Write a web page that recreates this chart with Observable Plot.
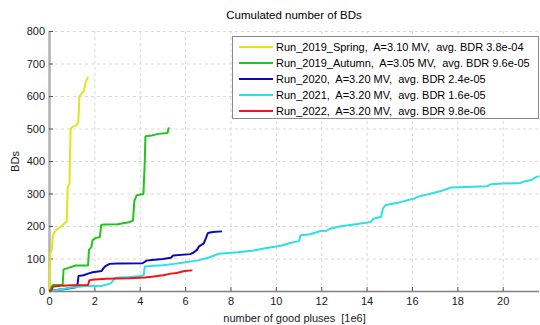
<!DOCTYPE html>
<html>
<head>
<meta charset="utf-8">
<script src="https://cdn.jsdelivr.net/npm/d3@7"></script>
<script src="https://cdn.jsdelivr.net/npm/@observablehq/plot@0.6"></script>
<style>
  html, body { margin: 0; padding: 0; background: #fff; }
  #wrap { position: relative; width: 540px; height: 325px; font-family: "Liberation Sans", Arial, sans-serif; }
  #title { position: absolute; left: 49px; width: 490px; top: 9px; text-align: center; font-size: 11.5px; color: #000; }
  #legend { position: absolute; left: 232px; top: 36px; width: 305px; height: 81px; border: 1px solid #8a8a8a; background: #fff; box-sizing: content-box; }
  .row { position: absolute; left: 0; height: 16px; white-space: pre; font-size: 11px; color: #000; }
  .row svg { position: absolute; left: 6px; top: 0; }
  .row span { position: absolute; left: 43px; top: 1px; }
</style>
</head>
<body>
<div id="wrap">
  <div id="chart"></div>
  <div id="title">Cumulated number of BDs</div>
  <div id="legend"></div>
</div>
<script>
// ---- data ----
const seriesNames = [
  "Run_2019_Spring,  A=3.10 MV,  avg. BDR 3.8e-04",
  "Run_2019_Autumn,  A=3.05 MV,  avg. BDR 9.6e-05",
  "Run_2020,  A=3.20 MV,  avg. BDR 2.4e-05",
  "Run_2021,  A=3.20 MV,  avg. BDR 1.6e-05",
  "Run_2022,  A=3.20 MV,  avg. BDR 9.8e-06"
];
const seriesColors = ["#e3e31c", "#22c41c", "#0a0ab0", "#2ee0e0", "#f01414"];

const springX = [0, 0.02, 0.04, 0.1, 0.15, 0.3, 0.55, 0.72, 0.76, 0.8, 0.88, 0.93, 1.0, 1.2, 1.27, 1.32, 1.45, 1.52, 1.58, 1.62, 1.7];
const springY = [0, 60, 118, 130, 175, 190, 202, 213, 215, 320, 332, 500, 506, 512, 522, 600, 612, 618, 640, 648, 660];

const autumnX = [0, 0.1, 0.15, 0.58, 0.62, 0.8, 1.15, 1.7, 1.74, 1.84, 1.9, 2.05, 2.22, 2.28, 2.4, 3.0, 3.5, 3.68, 3.74, 3.84, 4.14, 4.2, 4.23, 4.5, 4.8, 5.2, 5.26];
const autumnY = [0, 15, 20, 20, 68, 72, 80, 80, 128, 136, 158, 165, 167, 205, 206, 207, 213, 218, 278, 296, 300, 400, 478, 480, 485, 488, 505];

const run2020X = [0, 0.3, 0.6, 0.9, 1.22, 1.28, 1.5, 1.7, 1.9, 2.3, 2.38, 2.45, 2.65, 3.0, 4.1, 4.28, 4.5, 5.0, 5.35, 5.45, 6.2, 6.35, 6.5, 6.58, 6.8, 6.9, 6.98, 7.2, 7.6];
const run2020Y = [0, 5, 7, 10, 14, 48, 50, 55, 59, 63, 72, 77, 85, 86, 87, 95, 97, 100, 104, 111, 115, 120, 128, 138, 148, 165, 180, 183, 185];

const run2021X = [0, 0.2, 0.6, 1.0, 1.7, 2.25, 2.7, 2.9, 3.5, 4.05, 4.15, 4.2, 4.6, 5.0, 5.5, 6.0, 6.5, 7.0, 7.45, 8.3, 9.0, 9.5, 10.2, 10.6, 11.0, 11.07, 11.5, 11.95, 12.22, 12.35, 12.84, 13.57, 14.16, 14.28, 14.62, 14.7, 14.82, 15.3, 16.07, 16.25, 16.8, 17.25, 17.7, 19.3, 19.45, 20.0, 20.75, 20.95, 21.2, 21.45, 21.6];
const run2021Y = [0, 3, 8, 12, 18, 16, 25, 42, 45, 48, 50, 77, 79, 81, 85, 90, 95, 104, 116, 121, 126, 133, 141, 149, 155, 173, 176, 186, 187, 193, 201, 208, 214, 224, 230, 256, 266, 272, 286, 292, 301, 309, 320, 324, 330, 332, 334, 339, 342, 352, 355];

const run2022X = [0, 0.1, 0.15, 0.5, 1.0, 1.7, 1.76, 2.0, 2.5, 3.0, 3.5, 4.2, 4.6, 5.0, 5.35, 5.6, 5.95, 6.3];
const run2022Y = [0, 5, 15, 18, 19, 20, 35, 37, 39, 40, 41, 43, 46, 50, 55, 57, 63, 65];

const xTicks = [0, 2, 4, 6, 8, 10, 12, 14, 16, 18, 20];
const yTicks = [0, 100, 200, 300, 400, 500, 600, 700, 800];

const xsAll = [springX, autumnX, run2020X, run2021X, run2022X];
const ysAll = [springY, autumnY, run2020Y, run2021Y, run2022Y];

const rows = [];
xsAll.forEach((xs, i) => xs.forEach((x, j) => rows.push({series: seriesNames[i], x, y: ysAll[i][j]})));

const plot = Plot.plot({
  width: 540,
  height: 325,
  marginLeft: 49,
  marginRight: 1,
  marginTop: 31,
  marginBottom: 34,
  style: {fontFamily: "Liberation Sans, Arial, sans-serif", fontSize: "11px", color: "#262626", background: "#fff"},
  x: {domain: [0, 21.6]},
  y: {domain: [0, 800]},
  color: {domain: seriesNames, range: seriesColors},
  marks: [
    Plot.ruleX(xTicks, {stroke: "#d9d9d9", strokeDasharray: "3,3", strokeWidth: 1}),
    Plot.ruleY(yTicks, {stroke: "#d9d9d9", strokeDasharray: "3,3", strokeWidth: 1}),
    Plot.ruleX([0], {stroke: "#b0b0b0", strokeWidth: 2.5}),
    Plot.ruleY([0], {stroke: "#808080", strokeWidth: 1.3}),
    Plot.axisX({ticks: xTicks, tickSize: -4, tickPadding: 10, tickFormat: d => String(d), stroke: "#555", label: "number of good pluses \u00a0[1e6]", labelAnchor: "center", labelOffset: 30, labelArrow: "none", fill: "#1a1a1a"}),
    Plot.axisY({ticks: yTicks, tickSize: -4, tickPadding: 8.5, tickFormat: d => String(d), stroke: "#555", label: "BDs", labelAnchor: "center", labelOffset: 38, labelArrow: "none", fill: "#1a1a1a"}),
    Plot.line(rows, {x: "x", y: "y", z: "series", stroke: "series", strokeWidth: 2, strokeLinejoin: "miter", strokeLinecap: "butt"})
  ]
});
document.getElementById("chart").appendChild(plot);

// legend
const legend = document.getElementById("legend");
seriesNames.forEach((name, i) => {
  const row = document.createElement("div");
  row.className = "row";
  row.style.top = (3 + i * 16) + "px";
  row.innerHTML = `<svg width="34" height="16"><line x1="0" x2="34" y1="7" y2="7" stroke="${seriesColors[i]}" stroke-width="2"/></svg><span></span>`;
  row.querySelector("span").textContent = name;
  legend.appendChild(row);
});
</script>
</body>
</html>
